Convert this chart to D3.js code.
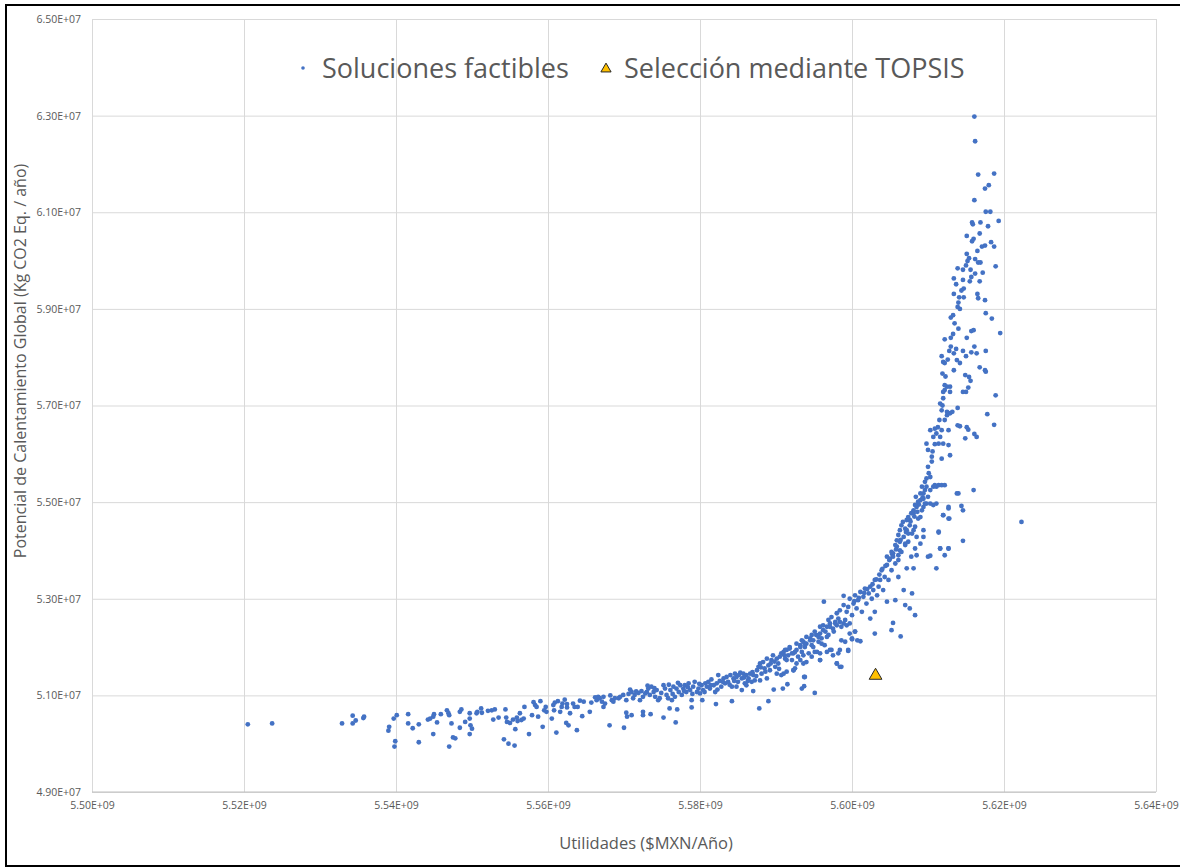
<!DOCTYPE html>
<html><head><meta charset="utf-8">
<script src="https://cdn.jsdelivr.net/npm/d3@7"></script>
<style>
html,body{margin:0;padding:0;background:#fff;}
svg{display:block;}
text{font-family:"Open Sans","Noto Sans",sans-serif;}
</style></head>
<body>
<svg id="chart" width="1180" height="867"></svg>
<script>
// Units: Utilidades in millions of MXN/año, Potencial in millions of kg CO2 eq./año
const X_UNIT = 1e6, Y_UNIT = 1e6;
const xTicks = [5500,5520,5540,5560,5580,5600,5620,5640];
const yTicks = [49,51,53,55,57,59,61,63,65];
const seriesNames = ["Soluciones factibles","Selección mediante TOPSIS"];
const topsis = [[5603.1,51.43]];
const soluciones = [
[5520.5,50.40],[5523.7,50.42],[5532.9,50.42],[5534.3,50.58],[5534.3,50.42],[5534.7,50.48],[5535.7,50.53],[5535.8,50.56],
[5539.0,50.27],[5539.1,50.35],[5539.9,50.05],[5539.8,49.94],[5539.7,50.52],[5540.1,50.59],[5541.6,50.61],[5541.6,50.42],[5542.2,50.32],[5543.0,50.40],[5543.0,50.03],[5544.2,50.50],[5544.5,50.52],[5544.9,50.56],[5545.0,50.61],[5544.9,50.20],[5545.4,50.44],[5545.9,50.61],[5546.7,50.69],[5546.9,50.63],[5547.0,50.59],[5547.3,50.42],[5547.5,50.13],[5547.8,50.11],[5547.0,49.94],[5548.4,50.66],[5548.6,50.71],[5548.4,50.33],[5549.1,50.45],[5549.7,50.63],[5549.7,50.52],[5549.7,50.20],[5549.8,50.38],[5550.0,50.31],[5550.6,50.63],[5550.7,50.66],[5551.2,50.73],[5551.3,50.64],[5552.1,50.68],[5552.6,50.69],[5553.0,50.71],[5552.8,50.50],[5553.5,50.54],[5554.2,50.09],[5554.4,50.71],[5554.5,50.54],[5554.6,50.45],[5554.8,50.00],[5555.0,50.43],[5555.4,50.50],[5555.6,49.96],[5555.7,50.30],[5555.9,50.54],[5556.0,50.47],[5556.3,50.63],[5556.5,50.49],[5556.8,50.52],[5556.9,50.76],[5557.5,50.20],[5557.9,50.59],[5558.1,50.86],[5558.3,50.80],[5558.5,50.76],[5558.7,50.56],[5559.0,50.88],[5559.3,50.35],[5559.5,50.69],[5559.7,50.76],[5559.8,50.66],[5560.5,50.52],[5560.7,50.80],[5560.8,50.69],[5560.9,50.85],[5561.1,50.23],[5561.3,50.88],[5561.6,50.66],[5561.8,50.76],[5561.9,50.83],[5562.2,50.91],[5562.4,50.43],[5562.5,50.75],[5562.5,50.82],[5562.7,50.38],[5562.9,50.63],[5563.3,50.83],[5563.5,50.76],[5563.8,50.28],[5563.9,50.76],[5564.2,50.89],[5564.5,50.57],[5564.7,50.87],[5565.5,50.66],[5565.7,50.85],[5566.2,50.96],[5566.4,50.90],[5566.6,50.97],[5566.8,50.94],[5567.1,50.87],[5567.3,50.97],[5567.3,50.76],[5567.5,50.83],[5568.1,50.38],[5568.2,51.00],[5568.4,50.90],[5568.6,50.87],[5568.8,50.94],[5569.3,50.94],
[5569.5,50.97],[5569.9,51.01],[5570.3,50.90],[5570.6,51.03],[5571.0,51.07],[5571.2,50.94],[5571.4,51.01],[5571.9,51.05],[5572.1,50.90],[5572.3,51.09],[5572.5,50.97],[5573.0,51.07],[5573.2,51.14],[5573.4,51.01],[5573.6,51.18],[5573.9,51.07],[5574.1,50.97],[5574.3,51.11],[5574.5,50.90],[5574.7,50.94],[5575.2,51.21],[5575.4,51.14],[5575.6,51.01],[5575.8,50.94],[5576.1,51.11],[5576.3,50.90],[5576.5,51.18],[5576.7,50.97],[5576.9,51.14],[5577.2,51.07],[5577.4,51.21],[5577.6,51.01],[5577.8,51.14],[5578.0,51.21],[5578.2,51.07],[5578.5,51.25],[5578.7,51.11],[5579.1,51.18],[5579.3,51.28],[5579.6,51.07],[5579.8,51.14],[5580.0,51.04],[5580.2,51.21],[5580.4,51.11],[5580.7,51.25],[5580.9,51.18],[5581.1,51.28],[5581.3,51.14],[5581.5,51.33],[5581.8,51.21],[5582.0,51.07],[5582.2,51.25],[5582.4,51.42],[5582.6,51.30],[5582.8,51.18],[5583.1,51.35],[5583.3,51.25],[5583.5,51.38],[5583.7,51.28],[5584.0,51.42],[5584.2,51.18],[5584.4,51.35],[5584.6,51.45],[5584.8,51.38],[5585.0,51.28],[5585.3,51.47],[5585.5,51.35],[5585.7,51.45],[5585.9,51.25],[5586.1,51.42],[5586.4,51.35],[5586.6,51.45],[5586.8,51.28],[5587.0,51.42],[5587.2,51.31],[5587.5,51.52],[5587.7,51.59],[5587.9,51.66],[5588.1,51.45],[5588.3,51.69],[5588.5,51.56],[5588.8,51.76],[5589.0,51.62],[5589.2,51.52],[5589.4,51.73],[5589.6,51.83],[5589.9,51.59],[5590.1,51.76],[5590.3,51.66],[5590.5,51.80],[5590.7,51.42],[5591.0,51.90],[5591.2,51.76],[5591.4,51.94],[5591.6,51.83],[5591.8,51.97],[5592.1,51.73],[5592.3,51.87],[5592.5,51.56],[5592.7,51.94],[5592.9,51.80],[5593.2,52.04],[5593.4,51.90],[5593.6,52.11],[5593.8,52.00],[5594.0,52.07],[5594.3,51.87],[5594.5,52.18],[5594.7,52.04],[5594.9,52.14],[5595.1,51.90],[5595.3,52.25],[5595.6,52.11],[5595.8,52.28],[5596.0,52.18],[5596.2,52.35],[5596.4,52.04],[5596.7,52.42],[5596.9,52.25],[5597.1,52.49],[5597.3,51.94],[5597.5,52.38],[5597.8,52.52],[5598.0,52.45],[5598.2,51.87],[5598.4,52.52],[5598.6,52.14],[5598.9,52.49],[5599.3,52.45],[5599.5,51.94],[5599.7,52.49],[5600.0,52.18],[5600.4,52.32],[5600.7,52.14],
[5570.0,50.33],[5570.3,50.64],[5570.4,50.56],[5571.0,50.59],[5572.5,50.66],[5572.5,50.59],[5573.5,50.61],[5575.2,50.54],[5576.0,50.73],[5576.8,50.44],[5577.0,50.71],[5578.9,50.90],[5578.9,50.75],[5580.3,50.90],[5582.1,50.82],[5584.2,50.88],[5587.8,50.73],[5589.0,50.88],[5587.0,51.09],[5589.7,51.12],[5590.9,51.14],[5591.5,51.23],[5593.4,51.14],[5593.7,51.38],[5595.1,51.05],[5595.8,51.73],[5593.7,51.19],
[5584.8,51.18],[5585.5,51.11],[5586.1,51.21],[5587.9,51.31],[5588.8,51.35],[5590.1,51.45],[5591.4,51.49],[5592.3,51.52],[5592.7,51.66],[5593.6,51.66],[5594.0,51.69],[5594.7,51.80],[5595.8,51.87],[5596.7,51.90],[5597.5,51.83],[5598.0,51.66],[5598.4,51.59],[5599.1,52.11],[5599.7,52.28],
[5570.8,51.12],[5571.6,51.08],[5572.8,51.04],[5573.1,51.20],[5574.0,51.15],[5574.9,51.05],[5575.9,51.22],[5576.4,51.03],[5577.1,51.26],[5577.9,51.09],[5578.4,51.17],[5579.0,51.03],[5579.9,51.24],[5580.6,51.07],[5581.4,51.21],[5582.3,51.12],[5583.0,51.28],[5583.9,51.22],[5584.5,51.30],[5585.1,51.42],[5585.8,51.37],[5586.3,51.30],[5586.9,51.48],[5587.4,51.40],[5588.0,51.58],[5588.6,51.49],[5589.3,51.66],[5589.8,51.70],[5590.4,51.55],[5591.1,51.83],
[5590.7,51.87],[5591.2,51.94],[5591.4,51.73],[5591.8,52.00],[5592.1,51.87],[5592.5,51.90],[5592.7,52.07],[5593.2,52.00],[5593.4,52.14],[5593.6,51.83],[5593.8,52.07],[5594.0,52.21],[5594.5,52.14],[5594.7,52.25],[5594.9,52.00],[5595.1,52.32],[5595.4,51.90],[5595.6,52.21],[5595.8,52.42],[5596.0,52.07],[5596.2,52.45],[5596.5,52.32],[5596.7,52.21],[5596.9,52.56],[5597.1,52.42],[5597.3,52.62],[5597.6,52.32],[5597.8,52.49],[5598.0,52.70],[5598.2,52.59],[5598.4,52.76],[5598.6,52.42],[5598.9,52.87],[5599.1,52.56],[5599.3,52.73],[5599.5,52.83],[5599.7,53.00],[5600.0,52.66],[5600.2,52.90],[5600.4,53.07],[5600.6,52.80],[5600.8,52.97],[5601.1,53.14],[5601.3,52.73],[5601.5,53.04],[5601.7,53.21],[5601.9,52.90],[5602.2,53.11],[5602.4,53.25],[5602.6,53.00],[5602.8,53.18],[5603.0,53.39],[5603.3,53.07],[5603.5,53.25],[5603.7,53.39],[5603.9,53.59],[5604.1,53.18],[5604.3,53.45],[5604.6,53.70],[5604.8,53.39],[5605.0,53.83],[5605.2,53.59],[5605.4,53.94],[5605.7,53.73],[5605.9,54.08],[5606.1,53.80],[5606.3,54.18],[5606.5,53.97],[5606.8,54.28],[5607.0,54.11],[5607.2,54.42],[5607.4,54.18],[5607.6,54.63],[5607.9,54.35],[5608.1,54.77],[5608.3,54.49],[5608.5,54.90],[5608.7,54.66],[5609.0,55.04],[5609.2,54.83],[5609.4,55.18],[5609.6,54.97],[5609.8,55.32],[5610.0,55.11],
[5600.3,52.95],[5600.9,53.02],[5601.6,53.12],[5602.0,53.20],[5602.7,53.30],[5603.2,53.40],[5603.6,53.50],[5604.0,53.62],[5604.4,53.68],[5604.9,53.80],[5605.3,53.92],[5605.8,54.02],[5606.4,54.22],[5607.1,54.38],[5607.7,54.60],[5608.2,54.70],[5608.8,54.95],[5609.3,55.10],[5609.6,55.42],[5610.1,55.60],[5610.6,56.05],[5610.9,56.20],[5611.3,56.55],[5611.5,56.70],[5611.9,57.00],[5612.3,57.60],[5612.6,57.95],[5613.0,58.40],[5613.5,58.70],[5614.2,59.00],[5614.6,59.60],[5615.0,59.90],[5615.4,60.05],[5616.0,60.45],[5616.5,60.20],
[5596.3,52.94],[5598.9,53.06],[5598.4,51.94],[5599.5,51.92],[5600.0,52.16],[5601.1,52.12],[5600.4,52.32],[5603.0,52.28],[5602.4,52.59],[5603.0,52.73],[5605.4,52.50],[5605.2,52.35],[5606.4,52.22],[5607.0,52.87],[5607.6,52.80],[5608.3,52.66],[5607.9,53.11],[5606.8,53.18],[5604.6,52.94],[5605.7,52.97],[5606.1,53.45],[5607.2,53.63],[5608.1,53.63],[5609.4,54.28],[5610.0,53.87],[5611.1,53.63],[5611.4,54.39],[5611.6,54.04],[5612.2,53.90],[5612.7,54.04],[5612.0,54.73],[5612.7,54.66],[5612.7,54.87],[5613.8,55.18],[5610.7,54.94],[5611.1,55.32],[5595.8,51.73],[5597.1,51.94],[5598.0,51.66],[5598.6,51.59],[5593.8,51.38],[5593.2,51.73],[5591.0,51.45],[5592.3,51.52],
[5604.6,53.87],[5605.2,53.97],[5605.7,54.11],[5605.9,54.21],[5606.1,54.32],[5606.3,54.42],[5606.5,54.52],[5606.7,54.59],[5607.0,54.45],[5607.2,54.63],[5607.4,54.69],[5607.6,54.52],[5607.8,54.77],[5608.1,54.83],[5608.1,54.42],[5608.3,54.94],[5608.4,55.11],[5608.5,54.28],[5608.6,54.80],[5608.7,55.01],[5609.0,54.69],[5609.0,55.18],[5609.2,55.32],[5609.4,55.07],[5609.4,54.42],[5609.6,55.25],[5609.8,54.97],[5609.8,55.49],[5610.0,55.73],[5610.3,55.52],[5610.3,55.25],[5610.5,55.84],[5610.7,55.32],[5610.9,55.35],[5611.4,55.35],[5611.8,55.35],[5612.2,55.35],[5609.8,56.21],[5610.0,56.08],[5610.3,56.49],[5610.5,55.94],[5610.7,56.35],[5610.9,56.52],[5611.1,56.42],[5611.4,56.21],[5611.6,56.35],[5611.8,56.49],[5611.8,55.90],[5612.0,56.21],[5612.2,56.70],[5612.5,56.80],[5612.7,56.49],[5612.9,56.84],[5611.6,57.04],[5611.8,56.90],[5612.5,56.87],[5612.0,57.15],[5612.2,57.32],[5612.5,57.39],[5612.9,57.39],[5612.9,57.28],[5612.0,57.28],[5612.2,57.42],[5611.9,57.66],[5612.0,57.90],[5612.2,57.88],[5613.8,57.94],[5614.2,57.88],[5616.8,57.79],[5617.5,57.73],[5617.6,57.70],[5613.4,57.73],[5614.9,57.63],[5615.4,57.59],[5615.6,57.51],[5615.0,57.28],[5615.3,57.37],[5614.6,57.28],[5613.9,56.95],[5613.2,56.87],[5614.2,56.57],[5613.9,56.59],[5615.1,56.55],[5615.3,56.50],[5614.9,56.32],[5616.1,56.41],[5616.4,56.35],[5617.8,56.82],[5618.7,56.60],[5618.9,57.21],[5612.7,56.18],[5612.9,55.97],[5614.0,55.18],[5616.0,55.25],[5612.7,54.90],[5614.4,54.92],[5614.6,54.83],[5612.0,54.73],[5612.8,54.66],[5611.4,54.37],[5614.6,54.20],[5611.6,54.04],[5612.7,54.04],[5610.3,53.89],[5622.3,54.59],[5608.3,54.04],[5608.5,53.90],[5607.0,54.14],[5606.3,54.00],[5605.4,53.87],[5606.1,53.90],[5607.4,54.35],[5609.0,54.14],[5607.8,53.87],[5609.4,54.90],[5610.3,54.97],[5611.1,54.97],
[5616.1,62.98],[5616.2,62.47],[5616.6,61.78],[5618.7,61.80],[5617.5,61.49],[5618.0,61.56],[5616.1,61.25],[5617.6,61.01],[5618.2,61.01],[5619.3,60.82],[5615.8,60.79],[5615.9,60.75],[5616.9,60.79],[5617.9,60.71],[5615.1,60.51],[5616.8,60.56],[5615.8,60.40],[5618.3,60.38],[5617.1,60.29],[5617.5,60.31],[5618.7,60.29],[5615.1,60.14],[5615.2,59.99],[5616.2,60.03],[5616.6,59.96],[5616.9,59.96],[5618.9,59.88],[5613.9,59.84],[5614.6,59.81],[5615.6,59.81],[5616.2,59.73],[5617.2,59.75],[5613.4,59.63],[5615.7,59.66],[5615.5,59.57],[5616.8,59.57],[5613.7,59.51],[5614.4,59.38],[5614.7,59.42],[5613.4,59.31],[5614.1,59.24],[5614.7,59.24],[5616.5,59.31],[5616.6,59.22],[5617.5,59.18],[5614.0,59.13],[5613.9,59.04],[5617.6,58.91],[5618.4,58.80],[5613.0,58.82],[5613.3,58.87],[5614.0,58.59],[5615.7,58.54],[5616.0,58.56],[5619.5,58.50],[5613.3,58.48],[5612.2,58.37],[5615.1,58.40],[5613.0,58.22],[5613.7,58.17],[5614.6,58.13],[5616.1,58.22],[5617.6,58.13],[5612.8,58.13],[5613.4,58.08],[5615.7,58.10],[5616.4,58.08],[5615.0,58.02],[5611.8,58.02]
];

function sci(v){
  const parts = v.toExponential(2).split('e');
  const e = +parts[1];
  return parts[0] + 'E' + (e < 0 ? '-' : '+') + String(Math.abs(e)).padStart(2,'0');
}

(function draw(){
const svg = d3.select('#chart');
const pL = 92, pR = 1156, pT = 19, pB = 792;
const x = d3.scaleLinear().domain([xTicks[0]*X_UNIT, xTicks[xTicks.length-1]*X_UNIT]).range([pL, pR]);
const y = d3.scaleLinear().domain([yTicks[0]*Y_UNIT, yTicks[yTicks.length-1]*Y_UNIT]).range([pB, pT]);

// outer frame
svg.append('rect').attr('x',6).attr('y',5).attr('width',1190).attr('height',861)
  .attr('fill','#fff').attr('stroke','#000').attr('stroke-width',2);

// gridlines
const gx = svg.append('g').attr('transform',`translate(0,${pB})`)
  .call(d3.axisBottom(x).tickValues(xTicks.map(v=>v*X_UNIT)).tickSize(-(pB-pT)).tickFormat(''));
const gy = svg.append('g').attr('transform',`translate(${pL},0)`)
  .call(d3.axisLeft(y).tickValues(yTicks.map(v=>v*Y_UNIT)).tickSize(-(pR-pL)).tickFormat(''));
[gx,gy].forEach(g=>{
  g.select('.domain').remove();
  g.selectAll('.tick line').attr('stroke','#d9d9d9').attr('stroke-width',1);
});
svg.append('line').attr('x1',pL).attr('x2',pR).attr('y1',y(yTicks[0]*Y_UNIT)).attr('y2',y(yTicks[0]*Y_UNIT)).attr('stroke','#bfbfbf');

// tick labels
const lx = svg.append('g').attr('transform',`translate(0,${pB})`)
  .call(d3.axisBottom(x).tickValues(xTicks.map(v=>v*X_UNIT)).tickSize(0).tickPadding(10).tickFormat(sci));
const ly = svg.append('g').attr('transform',`translate(${pL},0)`)
  .call(d3.axisLeft(y).tickValues(yTicks.map(v=>v*Y_UNIT)).tickSize(0).tickPadding(11).tickFormat(sci));
[lx,ly].forEach(g=>{
  g.select('.domain').remove();
  g.selectAll('text').attr('fill','#595959').style('font-size','10.5px').style('font-family','"Open Sans","Noto Sans",sans-serif');
});

// axis titles
svg.append('text').attr('x',646).attr('y',849).attr('text-anchor','middle')
  .attr('fill','#595959').style('font-size','16.5px').text('Utilidades ($MXN/Año)');
svg.append('text').attr('transform','translate(26,361) rotate(-90)').attr('text-anchor','middle')
  .attr('fill','#595959').style('font-size','16px').text('Potencial de Calentamiento Global (Kg CO2 Eq. / año)');

// points
svg.append('g').selectAll('circle').data(soluciones).join('circle')
  .attr('cx',d=>x(d[0]*X_UNIT)).attr('cy',d=>y(d[1]*Y_UNIT)).attr('r',2.4)
  .attr('fill','#4472c4');

const tri = d3.symbol().type(d3.symbolTriangle);
svg.append('g').selectAll('path').data(topsis).join('path')
  .attr('transform',d=>`translate(${x(d[0]*X_UNIT)},${y(d[1]*Y_UNIT)+1})`)
  .attr('d',tri.size(70)()).attr('fill','#ffc000').attr('stroke','#262626').attr('stroke-width',1);

// legend
const lg = svg.append('g');
lg.append('circle').attr('cx',303).attr('cy',68).attr('r',1.8).attr('fill','#4472c4');
lg.append('text').attr('x',322).attr('y',78).attr('fill','#595959').style('font-size','27px').text(seriesNames[0]);
lg.append('path').attr('transform','translate(606,69)').attr('d',tri.size(45)())
  .attr('fill','#ffc000').attr('stroke','#262626').attr('stroke-width',1);
lg.append('text').attr('x',624).attr('y',78).attr('fill','#595959').style('font-size','27px').text(seriesNames[1]);
})();
</script>
</body></html>
